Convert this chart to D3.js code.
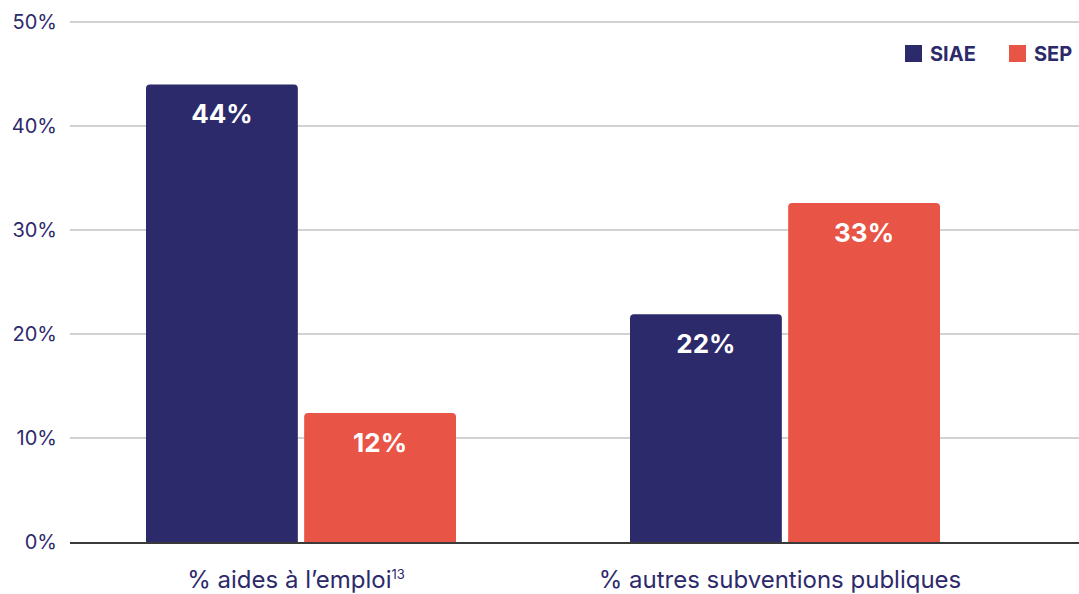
<!DOCTYPE html>
<html lang="fr">
<head>
<meta charset="utf-8">
<title>SIAE / SEP</title>
<style>
  body { margin: 0; background: #fff; }
  text { font-family: Inter, "Noto Sans", sans-serif; }
</style>
</head>
<body>
<svg width="1079" height="594"></svg>
<script src="https://d3js.org/d3.v7.min.js"></script>
<script>
// data
var categories = ["% aides à l\u2019emploi", "% autres subventions publiques"];
var seriesNames = ["SIAE", "SEP"];
var siae = [44.0, 21.9];
var sep = [12.4, 32.6];
var yTicks = [0, 10, 20, 30, 40, 50];

var colors = { SIAE: "#2d2a6b", SEP: "#e85446" };
var navy = "#2d2a6b";

var svg = d3.select("svg");

var y = d3.scaleLinear().domain([0, 50]).range([542, 22]);
var x0 = d3.scaleBand().domain(categories).range([59, 1027]).paddingInner(0).paddingOuter(0);
var x1 = d3.scaleBand().domain(seriesNames).range([0, 310]).paddingInner(0.04);

// gridlines
svg.append("g").selectAll("line")
  .data(yTicks.filter(function(d) { return d > 0; }))
  .enter().append("line")
    .attr("x1", 70).attr("x2", 1079)
    .attr("y1", function(d) { return y(d); })
    .attr("y2", function(d) { return y(d); })
    .attr("stroke", "#d2d2d2").attr("stroke-width", 2);

// y tick labels
svg.append("g").selectAll("text")
  .data(yTicks)
  .enter().append("text")
    .attr("x", 57)
    .attr("y", function(d) { return y(d) + 7; })
    .attr("text-anchor", "end")
    .attr("fill", navy)
    .style("font-size", "20px")
    .text(function(d) { return d + "%"; });

// rows for bars
var rows = [];
categories.forEach(function(c, i) {
  rows.push({ cat: c, s: "SIAE", v: siae[i] });
  rows.push({ cat: c, s: "SEP", v: sep[i] });
});

function barPath(x, top, w, bottom, r) {
  return "M" + x + "," + bottom +
    "V" + (top + r) +
    "Q" + x + "," + top + " " + (x + r) + "," + top +
    "H" + (x + w - r) +
    "Q" + (x + w) + "," + top + " " + (x + w) + "," + (top + r) +
    "V" + bottom + "Z";
}

function bx(d) {
  return x0(d.cat) + (x0.bandwidth() - 310) / 2 + x1(d.s);
}

svg.append("g").selectAll("path")
  .data(rows)
  .enter().append("path")
    .attr("d", function(d) { return barPath(bx(d), y(d.v), x1.bandwidth(), y(0), 4); })
    .attr("fill", function(d) { return colors[d.s]; });

svg.append("g").selectAll("text")
  .data(rows)
  .enter().append("text")
    .attr("x", function(d) { return bx(d) + x1.bandwidth() / 2; })
    .attr("y", function(d) { return y(d.v) + 39; })
    .attr("text-anchor", "middle")
    .attr("fill", "#fff")
    .style("font-size", "26px")
    .style("font-weight", "700")
    .text(function(d) { return Math.round(d.v) + "%"; });

// baseline
svg.append("line")
  .attr("x1", 70).attr("x2", 1079)
  .attr("y1", y(0) + 1).attr("y2", y(0) + 1)
  .attr("stroke", "#3a3a3a").attr("stroke-width", 2);

// category labels
var xl = svg.append("g").selectAll("text")
  .data(categories)
  .enter().append("text")
    .attr("x", function(d) { return x0(d) + x0.bandwidth() / 2 - 5; })
    .attr("y", 588)
    .attr("text-anchor", "middle")
    .attr("fill", navy)
    .style("font-size", "24px")
    .text(function(d) { return d; });
xl.filter(function(d, i) { return i === 0; })
  .append("tspan")
    .attr("dy", -9)
    .style("font-size", "13px")
    .text("13");

// legend
var legendX = [905, 1009];
var lg = svg.append("g").selectAll("g")
  .data(seriesNames)
  .enter().append("g")
    .attr("transform", function(d, i) { return "translate(" + legendX[i] + ",45)"; });
lg.append("rect")
  .attr("width", 17).attr("height", 17)
  .attr("fill", function(d) { return colors[d]; });
lg.append("text")
  .attr("x", 25).attr("y", 16)
  .attr("fill", navy)
  .style("font-size", "20px")
  .style("font-weight", "700")
  .text(function(d) { return d; });
</script>
</body>
</html>
